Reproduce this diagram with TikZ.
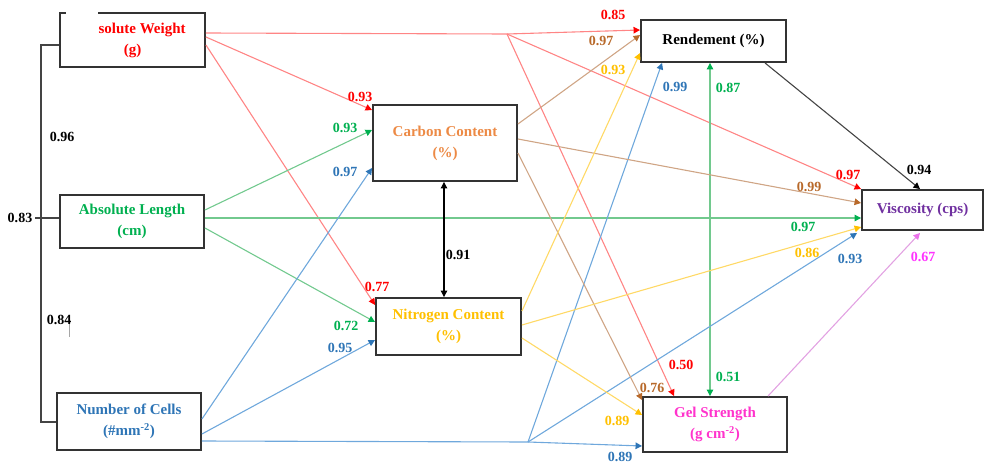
\documentclass[tikz,border=0pt]{standalone}
\usepackage{fontspec}
\setmainfont{Liberation Serif}
\usetikzlibrary{arrows.meta}
\definecolor{boxgray}{HTML}{333333}
\definecolor{redln}{HTML}{FF8585}
\definecolor{redlb}{HTML}{FF0000}
\definecolor{greenln}{HTML}{72C98E}
\definecolor{greenlb}{HTML}{00B050}
\definecolor{blueln}{HTML}{6FA8DC}
\definecolor{bluelb}{HTML}{2E75B6}
\definecolor{brownln}{HTML}{CFA585}
\definecolor{brownlb}{HTML}{B8692A}
\definecolor{goldln}{HTML}{FFD966}
\definecolor{goldlb}{HTML}{FFC000}
\definecolor{pinkln}{HTML}{E2A2E2}
\definecolor{pinklb}{HTML}{FF33FF}
\definecolor{geltx}{HTML}{FF33CC}
\definecolor{vistx}{HTML}{7030A0}
\definecolor{carbtx}{HTML}{ED8A45}
\definecolor{blackln}{HTML}{444444}
\begin{document}
\begin{tikzpicture}[x=1pt,y=-1pt,
  box/.style={draw=boxgray, line width=1.9pt, fill=white, inner sep=0pt, align=center,
    font=\bfseries\fontsize{15}{21}\selectfont},
  lbl/.style={font=\bfseries\fontsize{14}{14}\selectfont, inner sep=0pt},
  ln/.style={line width=1.1pt},
  arr/.style={-{Triangle[length=6.5pt,width=6.5pt,color=#1]}},
  darr/.style={{Triangle[length=6.5pt,width=6.5pt,color=#1]}-{Triangle[length=6.5pt,width=6.5pt,color=#1]}}
]
\useasboundingbox (0,0) rectangle (995,463);

% boxes
\node[box, minimum width=145pt, minimum height=54pt, text=redlb] (aw) at (132.5,40) {\phantom{Ab}solute Weight\\(g)};
\node[box, minimum width=144pt, minimum height=53pt, text=greenlb] (al) at (132,221.5) {Absolute Length\\(cm)};
\node[box, minimum width=144pt, minimum height=57pt, text=bluelb] (nc) at (129,421.5) {Number of Cells\\(\#mm\textsuperscript{-2})};
\node[box, minimum width=144pt, minimum height=76pt, text=carbtx] (cc) at (445,143) {Carbon Content\\(\%)};
\node[box, minimum width=145pt, minimum height=57pt, text=goldlb] (nt) at (448.5,326.5) {Nitrogen Content\\(\%)};
\node[box, minimum width=145pt, minimum height=42pt, text=black] (rd) at (713.5,41) {Rendement (\%)};
\node[box, minimum width=121pt, minimum height=40pt, text=vistx] (vs) at (922.5,210) {Viscosity (cps)};
\node[box, minimum width=144pt, minimum height=55pt, text=geltx] (gs) at (715,424.5) {Gel Strength\\(g cm\textsuperscript{-2})};
\fill[white] (66,9) rectangle (98,16.5);

% junctions
\coordinate (j1) at (507,34);
\coordinate (j2) at (710,218);
\coordinate (j3) at (528,442);

% left bracket
\coordinate (bt) at (41,45);
\coordinate (bb) at (41,422);
\coordinate (bm) at (35,218);
\coordinate (tk1) at (69,318);
\coordinate (tk2) at (69,337);
\draw[blackln, line width=1.2pt] (aw.west |- bt) -- (bt) -- (bb) -- (nc.west |- bb);
\draw[blackln, line width=1.2pt] (bm) -- (al.west |- bm);
\draw[gray!70, line width=0.8pt] (tk1) -- (tk2);

% Absolute weight (red)
\draw[ln, redln] ([yshift=7pt]aw.east) -- (j1);
\draw[ln, redln, arr=redlb] (j1) -- ([yshift=11pt]rd.west);
\draw[ln, redln, arr=redlb] (j1) -- (vs.north west);
\draw[ln, redln, arr=redlb] (j1) -- ([xshift=32pt]gs.north west);
\draw[ln, redln, arr=redlb] ([yshift=3pt]aw.east) -- ([yshift=33pt]cc.west);
\draw[ln, redln, arr=redlb] ([yshift=-5pt]aw.east) -- ([yshift=21.5pt]nt.west);

% Absolute length (green)
\draw[ln, greenln, arr=greenlb] ([yshift=11.5pt]al.east) -- ([yshift=13pt]cc.west);
\draw[ln, greenln, arr=greenlb] ([yshift=3.5pt]al.east) -- ([yshift=-8pt]vs.west);
\draw[ln, greenln, arr=greenlb] (j2) -- (j2 |- rd.south);
\draw[ln, greenln, arr=greenlb] (j2) -- (j2 |- gs.north);
\draw[ln, greenln, arr=greenlb] ([yshift=-6.5pt]al.east) -- ([yshift=4.5pt]nt.west);

% Number of cells (blue)
\draw[ln, blueln, arr=bluelb] ([yshift=2.5pt]nc.east) -- ([yshift=-25pt]cc.west);
\draw[ln, blueln, arr=bluelb] ([yshift=-12.5pt]nc.east) -- ([yshift=-13.5pt]nt.west);
\draw[ln, blueln] ([yshift=-19.5pt]nc.east) -- (j3);
\draw[ln, blueln, arr=bluelb] (j3) -- ([yshift=-21.5pt]gs.west);
\draw[ln, blueln, arr=bluelb] (j3) -- ([xshift=22pt]rd.south west);
\draw[ln, blueln, arr=bluelb] (j3) -- ([xshift=-4pt,yshift=-2pt]vs.south west);

% Carbon (brown)
\draw[ln, brownln, arr=brownlb] ([yshift=19pt]cc.east) -- ([yshift=6pt]rd.west);
\draw[ln, brownln, arr=brownlb] ([yshift=4pt]cc.east) -- ([yshift=7pt]vs.west);
\draw[ln, brownln, arr=brownlb] ([yshift=-10pt]cc.east) -- ([yshift=-4pt]gs.north west);

% Nitrogen (gold)
\draw[ln, goldln, arr=goldlb] ([yshift=15.5pt]nt.east) -- ([yshift=-12pt]rd.west);
\draw[ln, goldln, arr=goldlb] ([yshift=1.5pt]nt.east) -- ([yshift=-17pt]vs.west);
\draw[ln, goldln, arr=goldlb] ([yshift=-11.5pt]nt.east) -- ([yshift=9.5pt]gs.west);

% carbon <-> nitrogen
\draw[ln, black, darr=black] ([xshift=-1pt]cc.south) -- ([xshift=-1pt]cc.south |- nt.north);

% to viscosity
\draw[ln, blackln, arr=black] ([xshift=51.5pt]rd.south) -- ([xshift=-2.5pt]vs.north);
\draw[ln, pinkln, arr=pinkln!70!magenta] ([xshift=53pt]gs.north) -- ([xshift=-2.5pt,yshift=-2pt]vs.south);

% labels
\node[lbl, text=redlb] (r1) at (613,15) {0.85};
\node[lbl, text=redlb] (r2) at (360,97) {0.93};
\node[lbl, text=redlb] (r3) at (377,287) {0.77};
\node[lbl, text=redlb] (r4) at (848,175) {0.97};
\node[lbl, text=redlb] (r5) at (681,365) {0.50};
\node[lbl, text=greenlb] (g1) at (345,128) {0.93};
\node[lbl, text=greenlb] (g2) at (346,326) {0.72};
\node[lbl, text=greenlb] (g3) at (803,227) {0.97};
\node[lbl, text=greenlb] (g4) at (728,88) {0.87};
\node[lbl, text=greenlb] (g5) at (728,377) {0.51};
\node[lbl, text=bluelb] (b1) at (345,172) {0.97};
\node[lbl, text=bluelb] (b2) at (340,348) {0.95};
\node[lbl, text=bluelb] (b3) at (620,457) {0.89};
\node[lbl, text=bluelb] (b4) at (675,87) {0.99};
\node[lbl, text=bluelb] (b5) at (850,259) {0.93};
\node[lbl, text=brownlb] (w1) at (601,41) {0.97};
\node[lbl, text=brownlb] (w2) at (809,187) {0.99};
\node[lbl, text=brownlb] (w3) at (652,388) {0.76};
\node[lbl, text=goldlb] (y1) at (613,70) {0.93};
\node[lbl, text=goldlb] (y2) at (807,253) {0.86};
\node[lbl, text=goldlb] (y3) at (617,421) {0.89};
\node[lbl, text=black] (k1) at (62,137) {0.96};
\node[lbl, text=black] (k2) at (20,218) {0.83};
\node[lbl, text=black] (k3) at (59,320) {0.84};
\node[lbl, text=black] (k4) at (458,255) {0.91};
\node[lbl, text=black] (k5) at (919,170) {0.94};
\node[lbl, text=pinklb] (p1) at (923,257) {0.67};
\end{tikzpicture}
\end{document}
